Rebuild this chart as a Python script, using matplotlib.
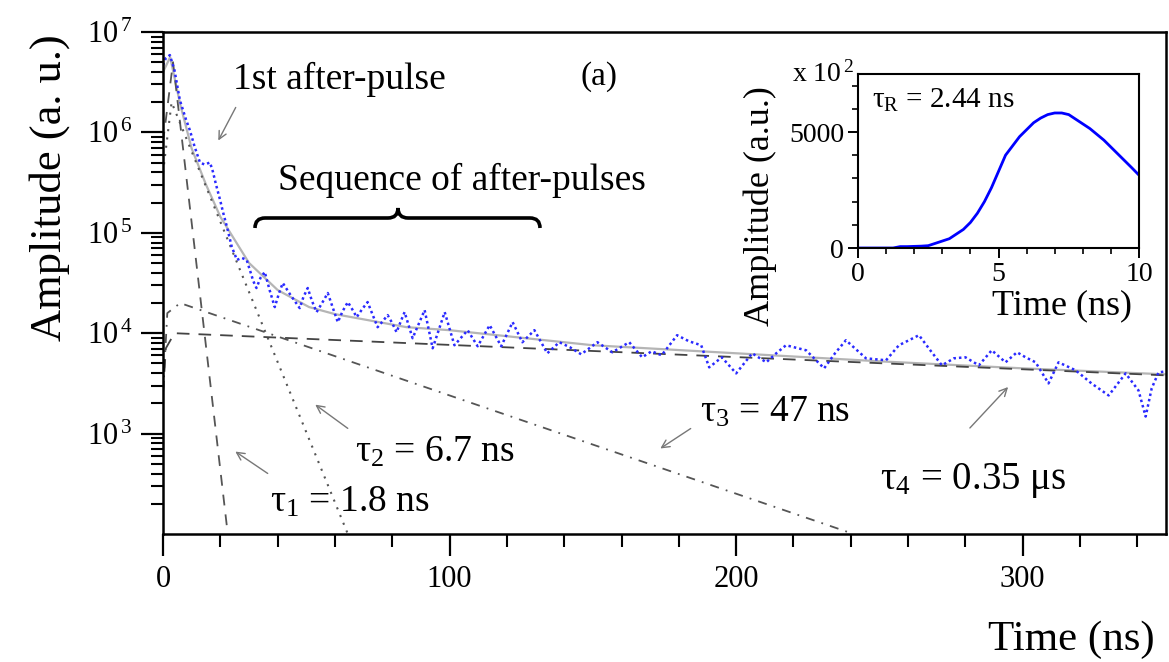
import numpy as np
import matplotlib
matplotlib.use('Agg')
import matplotlib.pyplot as plt
from matplotlib.ticker import FixedLocator, MultipleLocator, LogLocator, NullFormatter
from matplotlib.path import Path
from matplotlib.patches import PathPatch

plt.rcParams['font.family'] = ['Liberation Serif', 'DejaVu Serif']
plt.rcParams['mathtext.fontset'] = 'stix'
plt.rcParams['mathtext.default'] = 'regular'

W, H = 1169, 662

# measured decay (time in ns, log10 of amplitude)
t_data = [0, 1, 2.4, 4, 5.9, 8, 9.4, 11, 12.9, 14.5,
          16.4, 17.4, 18.5, 19.9, 21, 22.3, 24, 25.8, 27.5, 29.2,
          30.3, 31.5, 32.6, 34, 35.5, 37.3, 39, 40.5, 41.8, 44.5,
          47.7, 49, 50.5, 52, 53.6, 55.5, 57.5, 59.3, 61, 62.7,
          64.5, 66, 67.6, 69.5, 71.4, 73.2, 74.9, 76.7, 78.4, 80,
          81.5, 83, 84.3, 87.1, 91.3, 94.1, 98.3, 101.7, 106.3, 109.8,
          114, 118, 122, 125.4, 129.6, 134.1, 138.3, 142, 145.9, 151.6,
          156.8, 162.7, 167.2, 170.5, 174, 179.4, 183.5, 187.8, 190.6, 195,
          200, 205.6, 210.5, 214, 217.4, 224.4, 230.7, 234.5, 238.3, 245.3,
          252.3, 256.8, 263.8, 268, 271.8, 276, 280, 284.7, 289.2, 294,
          298, 301, 304.5, 309, 312.5, 318.5, 324, 330, 335.9, 340.4,
          342.9, 345, 347.4, 350]
log_data = [6.67, 6.74, 6.77, 6.62, 6.32, 6.13, 6.02, 5.86, 5.70, 5.68,
            5.70, 5.61, 5.48, 5.33, 5.20, 5.06, 4.86, 4.73, 4.75, 4.73,
            4.63, 4.52, 4.45, 4.55, 4.61, 4.42, 4.26, 4.40, 4.50, 4.38,
            4.25, 4.36, 4.45, 4.32, 4.21, 4.30, 4.40, 4.25, 4.11, 4.22,
            4.31, 4.24, 4.16, 4.24, 4.31, 4.18, 4.06, 4.12, 4.18, 4.10,
            4.01, 4.12, 4.21, 3.95, 4.23, 3.85, 4.21, 3.88, 4.03, 3.87,
            4.08, 3.87, 4.11, 3.91, 4.03, 3.80, 3.91, 3.86, 3.79, 3.91,
            3.81, 3.91, 3.76, 3.82, 3.78, 3.98, 3.92, 3.88, 3.66, 3.76,
            3.60, 3.80, 3.71, 3.80, 3.88, 3.83, 3.65, 3.80, 3.93, 3.75,
            3.73, 3.88, 3.98, 3.82, 3.68, 3.75, 3.76, 3.68, 3.83, 3.71,
            3.81, 3.76, 3.71, 3.50, 3.71, 3.63, 3.50, 3.38, 3.60, 3.43,
            3.17, 3.45, 3.61, 3.62]

# total fit
t_fit = [0, 2.5, 6, 10, 15, 20, 25, 30, 40, 51, 60, 85, 100, 150, 200, 250, 300, 350]
log_fit = [6.6, 6.75, 6.28, 5.84, 5.48, 5.16, 4.93, 4.70, 4.43, 4.26, 4.19, 4.06,
           4.03, 3.88, 3.80, 3.72, 3.65, 3.59]

# fit components (log10 amplitude at a few times)
t_c1, log_c1 = [0, 3.5, 22.6], [5.9, 6.7, 2.0]
t_c2, log_c2 = [0, 3, 64.5], [5.6, 6.3, 2.0]
t_c3, log_c3 = [0, 1.5, 6, 241], [3.4, 4.2, 4.3, 2.0]
t_c4, log_c4 = [0, 1, 4, 350], [3.4, 3.85, 4.0, 3.58]

# inset: rising edge
t_rise = np.arange(0, 10.01, 0.25)
amp_rise = [0, 0, 0, 0, 0, 0, 60, 60, 70, 80,
            100, 200, 300, 400, 600, 800, 1100, 1500, 2000, 2600,
            3300, 4000, 4400, 4800, 5100, 5400, 5600, 5750, 5820, 5820,
            5750, 5550, 5350, 5150, 4900, 4650, 4350, 4050, 3750, 3450,
            3140]


def fp(x, y):
    return (x, H - y)


def ff(x, y):
    return (x / W, 1 - y / H)


fig = plt.figure(figsize=(W / 100, H / 100), dpi=100)
ax = fig.add_axes([163 / W, 1 - 534 / H, (1166 - 163) / W, (534 - 32) / H])

ax.plot(t_fit, 10 ** np.array(log_fit), color='#b5b5b5', lw=1.6)
ax.plot(t_c1, 10 ** np.array(log_c1), color='#555555', lw=1.3, ls=(0, (6, 5)))
ax.plot(t_c2, 10 ** np.array(log_c2), color='#555555', lw=1.5, ls=(0, (1, 3)))
ax.plot(t_c3, 10 ** np.array(log_c3), color='#555555', lw=1.3, ls=(0, (5, 4, 1, 4)))
ax.plot(t_c4, 10 ** np.array(log_c4), color='#444444', lw=1.3, ls=(0, (7, 5)))
ax.plot(t_data, 10 ** np.array(log_data), color='#2a2aff', lw=1.8, ls=(0, (1, 1.2)))

ax.set_yscale('log')
ax.set_xlim(0, 350)
ax.set_ylim(1e2, 1e7)
ax.yaxis.set_major_locator(FixedLocator([1e3, 1e4, 1e5, 1e6, 1e7]))
ax.yaxis.set_minor_locator(LogLocator(base=10, subs=np.arange(2, 10)))
ax.yaxis.set_minor_formatter(NullFormatter())
ax.set_yticklabels([r'$10^{\,%d}$' % k for k in range(3, 8)])
ax.xaxis.set_major_locator(FixedLocator([0, 100, 200, 300]))
ax.xaxis.set_minor_locator(MultipleLocator(20))
ax.tick_params(which='major', length=16, width=1.6, labelsize=22, pad=6)
ax.tick_params(which='minor', length=9, width=1.5)
for s in ax.spines.values():
    s.set_linewidth(1.8)

ax.set_xlabel('Time (ns)', fontsize=31)
ax.xaxis.set_label_coords(0.906, -0.172)
ax.set_ylabel('Amplitude (a. u.)', fontsize=32)
ax.yaxis.set_label_coords(-0.093, 0.69)

# annotations
fs = 27
fig.text(*ff(233, 89), '1st after-pulse', fontsize=fs)
fig.text(*ff(278, 190), 'Sequence of after-pulses', fontsize=fs)
fig.text(*ff(580, 85), '(a)', fontsize=fs - 3)
fig.text(*ff(355, 462), r'τ$_2$ = 6.7 ns', fontsize=fs)
fig.text(*ff(270, 512), r'τ$_1$ = 1.8 ns', fontsize=fs)
fig.text(*ff(700, 422), r'τ$_3$ = 47 ns', fontsize=fs)
fig.text(*ff(880, 489), r'τ$_4$ = 0.35 μs', fontsize=fs + 1)

arrows = [((237, 105), (217, 143)),
          ((350, 430), (313, 403)),
          ((270, 475), (233, 450)),
          ((693, 427), (658, 450)),
          ((968, 430), (1010, 385))]
for tail, head in arrows:
    ax.annotate('', xy=fp(*head), xytext=fp(*tail), xycoords='figure pixels',
                textcoords='figure pixels',
                arrowprops=dict(arrowstyle='->', color='#777777', lw=1.0, mutation_scale=14))

# curly brace over the after-pulse train
bx = [(255, 228), (255, 218), (265, 218), (388, 218), (398, 218), (398, 208),
      (398, 218), (408, 218), (530, 218), (540, 218), (540, 228)]
codes = [Path.MOVETO, Path.CURVE3, Path.CURVE3, Path.LINETO, Path.CURVE3, Path.CURVE3,
         Path.CURVE3, Path.CURVE3, Path.LINETO, Path.CURVE3, Path.CURVE3]
brace = PathPatch(Path([ff(*p) for p in bx], codes), transform=fig.transFigure,
                  fill=False, lw=2.6, color='black')
fig.add_artist(brace)

# inset
ax2 = fig.add_axes([858 / W, 1 - 248 / H, (1139 - 858) / W, (248 - 74) / H])
ax2.plot(t_rise, amp_rise, color='blue', lw=2)
ax2.set_xlim(0, 10)
ax2.set_ylim(0, 7500)
ax2.xaxis.set_major_locator(FixedLocator([0, 5, 10]))
ax2.xaxis.set_minor_locator(MultipleLocator(1))
ax2.yaxis.set_major_locator(FixedLocator([0, 5000]))
ax2.yaxis.set_minor_locator(MultipleLocator(1000))
ax2.tick_params(which='major', length=7, width=1.4, labelsize=20, pad=3)
ax2.tick_params(which='minor', length=4, width=1.2)
for s in ax2.spines.values():
    s.set_linewidth(1.5)
ax2.set_xlabel('Time (ns)', fontsize=26)
ax2.xaxis.set_label_coords(0.726, -0.235)
ax2.set_ylabel('Amplitude (a.u.)', fontsize=26)
ax2.yaxis.set_label_coords(-0.29, 0.24)
fig.text(*ff(792, 82), r'x 10$^{\,2}$', fontsize=20)
fig.text(*ff(872, 108), r'τ$_R$ = 2.44 ns', fontsize=21)

fig.savefig('out.png', dpi=100)
